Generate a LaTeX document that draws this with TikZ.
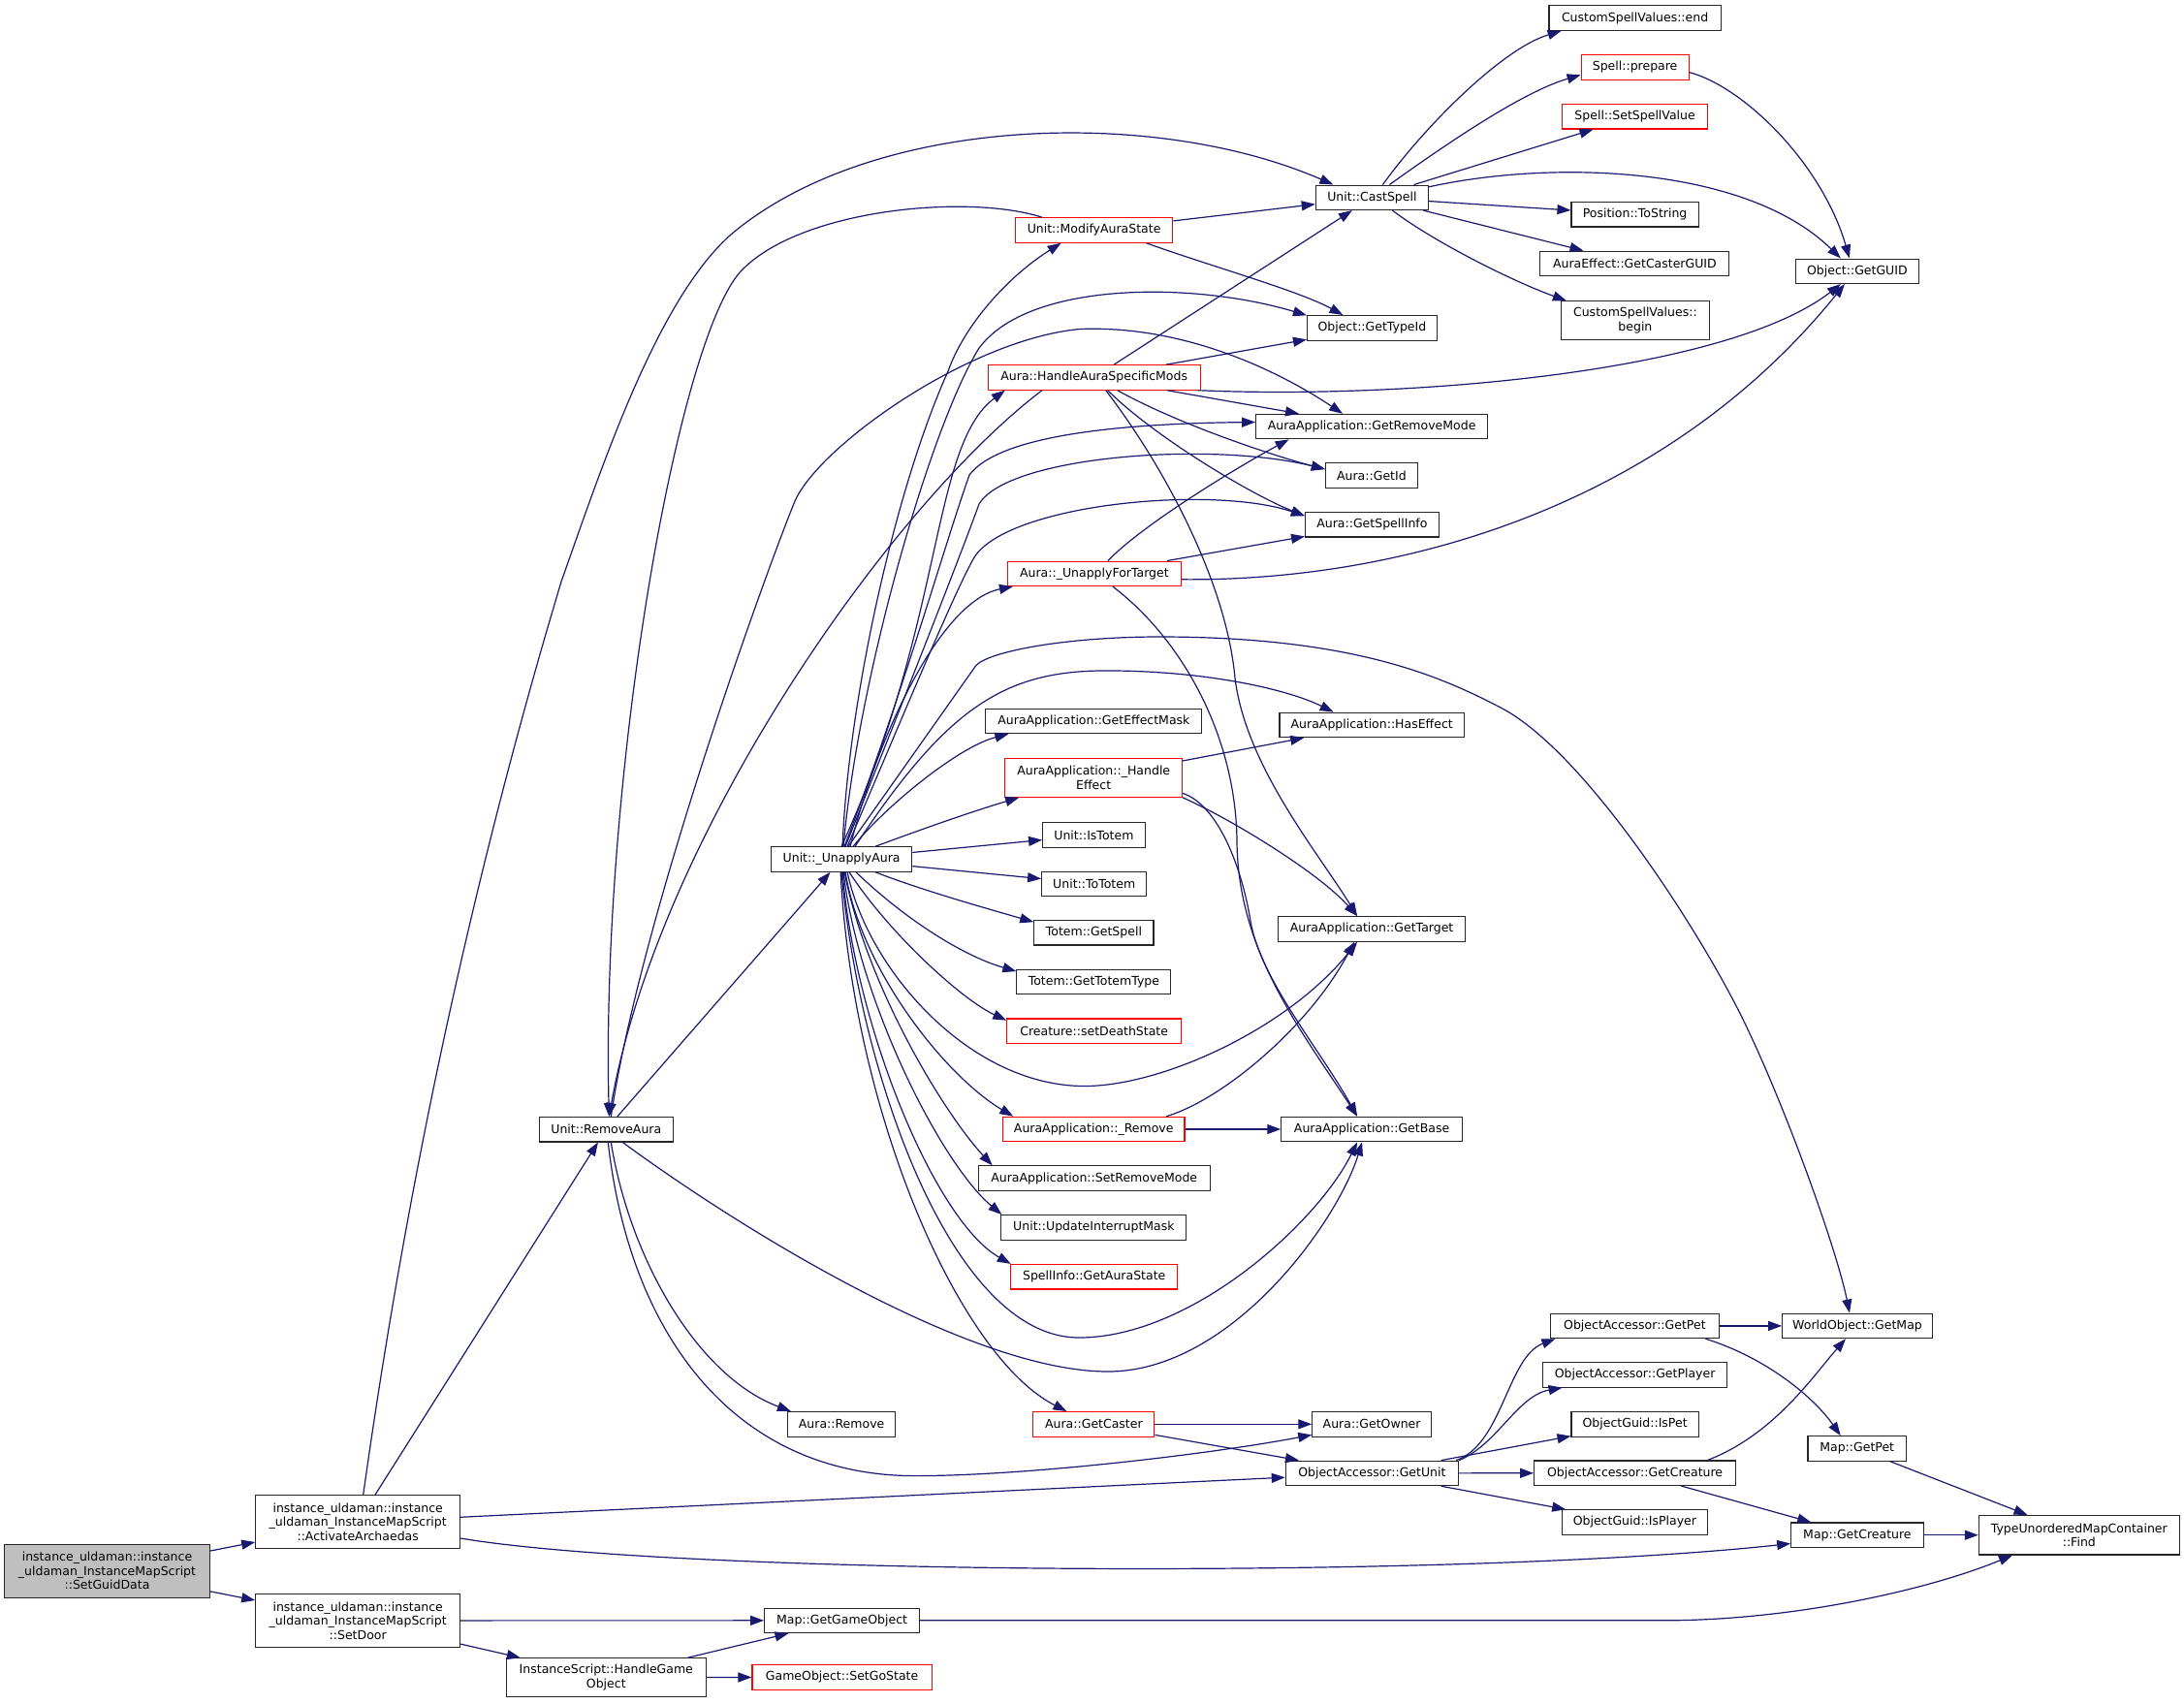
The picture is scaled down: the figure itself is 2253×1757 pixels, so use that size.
\documentclass[tikz,border=0pt]{standalone}
\usepackage{fontspec}
\setmainfont{DejaVu Sans}
\usetikzlibrary{arrows.meta}
\definecolor{mblue}{HTML}{191970}
\definecolor{gry}{HTML}{BFBFBF}
\newcommand\nodefont{\fontsize{12.5}{14.5}\selectfont}
\tikzset{
  nd/.style={draw=black!85, line width=1.1pt, fill=white, inner sep=0pt, minimum height=25.5pt, align=center, font=\nodefont},
  rd/.style={nd, draw=red},
  ed/.style={draw=mblue, line width=1.2pt, -{Triangle[length=14pt,width=10pt]}},
}
\begin{document}
\begin{tikzpicture}[x=1pt,y=-1pt]
\path[use as bounding box, fill=white] (0,0) rectangle (2253,1757);
% nodes
\node[nd, fill=gry, minimum width=211.4pt, minimum height=54.5pt] (sgd) at (110.5,1620.8) {instance\_uldaman::instance\\\_uldaman\_InstanceMapScript\\::SetGuidData};
\node[nd, minimum width=210.9pt, minimum height=54.9pt] (act) at (369.2,1570.3) {instance\_uldaman::instance\\\_uldaman\_InstanceMapScript\\::ActivateArchaedas};
\node[nd, minimum width=210.9pt, minimum height=54.5pt] (door) at (369.2,1671.9) {instance\_uldaman::instance\\\_uldaman\_InstanceMapScript\\::SetDoor};
\node[nd, minimum width=205.5pt, minimum height=39.4pt] (hgo) at (625.3,1730.5) {InstanceScript::HandleGame\\Object};
\node[nd, minimum width=137.6pt] (ra) at (625.3,1165.2) {Unit::RemoveAura};
\node[nd, minimum width=145.4pt] (ua) at (868.1,886.5) {Unit::\_UnapplyAura};
\node[nd, minimum width=116.3pt] (cs) at (1415.4,203.8) {Unit::CastSpell};
\node[rd, minimum width=162.4pt] (mas) at (1128.6,237.5) {Unit::ModifyAuraState};
\node[nd, minimum width=133.8pt] (gti) at (1415.4,338.3) {Object::GetTypeId};
\node[rd, minimum width=218.7pt] (hasm) at (1128.7,389.4) {Aura::HandleAuraSpecificMods};
\node[nd, minimum width=239pt] (grm) at (1415.1,440.1) {AuraApplication::GetRemoveMode};
\node[nd, minimum width=95pt] (gid) at (1414.9,490.5) {Aura::GetId};
\node[nd, minimum width=137.7pt] (gsi) at (1415.4,541.2) {Aura::GetSpellInfo};
\node[rd, minimum width=178.3pt] (uft) at (1128.9,591.8) {Aura::\_UnapplyForTarget};
\node[nd, minimum width=177.2pt] (cse) at (1686.6,18.6) {CustomSpellValues::end};
\node[rd, minimum width=111pt] (spp) at (1686.6,69.3) {Spell::prepare};
\node[rd, minimum width=150.4pt] (ssv) at (1686.6,120.2) {Spell::SetSpellValue};
\node[nd, minimum width=131.2pt] (pts) at (1686.6,221.2) {Position::ToString};
\node[nd, minimum width=195pt] (gcg) at (1686.4,271.9) {AuraEffect::GetCasterGUID};
\node[nd, minimum width=153.7pt, minimum height=39.8pt] (csb) at (1686.9,330.7) {CustomSpellValues::\\begin};
\node[nd, minimum width=126.8pt] (guid) at (1915.9,279.8) {Object::GetGUID};
\node[nd, minimum width=223pt] (gem) at (1128.4,743.9) {AuraApplication::GetEffectMask};
\node[nd, minimum width=190.5pt] (hef) at (1415.2,747.9) {AuraApplication::HasEffect};
\node[rd, minimum width=182.7pt, minimum height=39.8pt] (hle) at (1128.2,802.4) {AuraApplication::\_Handle\\Effect};
\node[nd, minimum width=105.6pt] (ist) at (1128.4,861.4) {Unit::IsTotem};
\node[nd, minimum width=108.1pt] (tot) at (1128.7,911.9) {Unit::ToTotem};
\node[nd, minimum width=123.2pt] (tgs) at (1128.4,962.2) {Totem::GetSpell};
\node[nd, minimum width=159pt] (ttt) at (1128.4,1013.1) {Totem::GetTotemType};
\node[rd, minimum width=179.9pt] (sds) at (1128.7,1063.7) {Creature::setDeathState};
\node[nd, minimum width=192.4pt] (gtg) at (1415.1,958.4) {AuraApplication::GetTarget};
\node[rd, minimum width=187.6pt] (rem) at (1128.2,1165) {AuraApplication::\_Remove};
\node[nd, minimum width=186.6pt] (gba) at (1415.1,1165) {AuraApplication::GetBase};
\node[nd, minimum width=238.9pt] (srm) at (1128.7,1215.6) {AuraApplication::SetRemoveMode};
\node[nd, minimum width=191pt] (uim) at (1128.4,1266.3) {Unit::UpdateInterruptMask};
\node[rd, minimum width=172.1pt] (gas) at (1128.7,1317.2) {SpellInfo::GetAuraState};
\node[nd, minimum width=111.4pt] (arm) at (868.1,1469.3) {Aura::Remove};
\node[rd, minimum width=125pt] (gca) at (1128.4,1469.3) {Aura::GetCaster};
\node[nd, minimum width=122.6pt] (gow) at (1415.1,1469.3) {Aura::GetOwner};
\node[nd, minimum width=178.3pt] (gun) at (1415.4,1519.9) {ObjectAccessor::GetUnit};
\node[nd, minimum width=160pt] (mgo) at (868.6,1671.8) {Map::GetGameObject};
\node[rd, minimum width=185.2pt] (sgs) at (868.6,1730.4) {GameObject::SetGoState};
\node[nd, minimum width=173.9pt] (oagp) at (1686.4,1367.9) {ObjectAccessor::GetPet};
\node[nd, minimum width=154.7pt] (gmap) at (1916,1367.9) {WorldObject::GetMap};
\node[nd, minimum width=190.6pt] (gpl) at (1686.6,1418.3) {ObjectAccessor::GetPlayer};
\node[nd, minimum width=131.2pt] (ipet) at (1686.6,1469.3) {ObjectGuid::IsPet};
\node[nd, minimum width=101.4pt] (mgp) at (1915.7,1494.4) {Map::GetPet};
\node[nd, minimum width=208pt] (gcr) at (1686.6,1519.7) {ObjectAccessor::GetCreature};
\node[nd, minimum width=149.9pt] (ipl) at (1686.4,1570.5) {ObjectGuid::IsPlayer};
\node[nd, minimum width=136.4pt] (mgc) at (1915.9,1583.7) {Map::GetCreature};
\node[nd, minimum width=207pt, minimum height=40.5pt] (fnd) at (2144.8,1583.7) {TypeUnorderedMapContainer\\::Find};
% edges: left part
\draw[ed] (sgd) -- (act);
\draw[ed] (sgd) -- (door);
\draw[ed] (door) -- (hgo);
\draw[ed] (door) -- (mgo);
\draw[ed] (hgo) -- (mgo);
\draw[ed] (hgo) -- (sgs);
\draw[ed] (act) -- (ra);
\draw[ed] (act) -- (gun);
\draw[ed] ([yshift=-16.7pt]act.east) .. controls (700,1625) and (1500,1630) .. ([yshift=-8.8pt]mgc.west);
\draw[ed] ([xshift=5.5pt]act.north) .. controls (418.7,1228.8) and (484.8,914) .. (579,600) .. controls (621.6,480) and (680,301) .. (760,237) .. controls (910,117) and (1195.6,112) .. ([xshift=-40pt]cs.north);
\draw[ed] (mgo.east) -- (1716,1671.8) .. controls (1850,1671.8) and (1990,1640) .. ([xshift=-68.8pt]fnd.south);
% RemoveAura
\draw[ed] (ra) -- (ua);
\draw[ed] ([xshift=5pt]ra.south) .. controls (650,1300) and (720,1420) .. ([xshift=4pt]arm.north west);
\draw[ed] ([xshift=2pt]ra.south) .. controls (650,1380) and (760,1522.6) .. (944,1522.6) .. controls (1060,1522.6) and (1250,1500) .. ([yshift=-11pt]gow.west);
\draw[ed] ([xshift=17pt]ra.south) .. controls (760,1265) and (1000,1415) .. (1143,1415) .. controls (1270,1415) and (1380,1260) .. ([xshift=-10pt]gba.south);
\draw[ed] ([xshift=5pt]ra.north) .. controls (660,950) and (790,590) .. (820,517) .. controls (845,460) and (1000,350) .. (1114,339.5) .. controls (1230,335) and (1330,390) .. ([xshift=-30pt]grm.north);
% ModifyAuraState
\draw[ed] ([xshift=-53.6pt]mas.north) .. controls (1000,200) and (830,215) .. (767,277) .. controls (700,340) and (620,800) .. ([xshift=3pt]ra.north);
\draw[ed] (mas) -- (cs);
\draw[ed] ([xshift=54pt]mas.south) .. controls (1250,275) and (1340,300) .. ([xshift=-30pt]gti.north);
% HandleAuraSpecificMods
\draw[ed] ([xshift=-53.7pt]hasm.south) .. controls (920,520) and (680,860) .. ([xshift=3pt]ra.north);
\draw[ed] (hasm) -- (cs);
\draw[ed] (hasm) -- (gti);
\draw[ed] (hasm) -- (grm);
\draw[ed] ([xshift=24pt]hasm.south) .. controls (1220,440) and (1320,472) .. ([yshift=6.5pt]gid.west);
\draw[ed] ([xshift=14pt]hasm.south) .. controls (1190,450) and (1290,510) .. ([yshift=9pt]gsi.west);
\draw[ed] ([xshift=12pt]hasm.south) .. controls (1200,480) and (1265,600) .. (1274,699.5) .. controls (1285,790) and (1360,880) .. ([xshift=-15pt]gtg.north);
\draw[ed] ([xshift=-3pt]hasm.south east) .. controls (1450,412) and (1780,385) .. ([xshift=-17pt]guid.south);
% _UnapplyForTarget
\draw[ed] ([xshift=14pt]uft.north) .. controls (1180,540) and (1280,480) .. ([xshift=-85.5pt]grm.south);
\draw[ed] (uft) -- (gsi);
\draw[ed] ([yshift=-6pt]uft.east) .. controls (1450,600) and (1720,520) .. ([xshift=-13pt]guid.south);
\draw[ed] ([xshift=19pt]uft.south) .. controls (1220,660) and (1275,760) .. (1276,868) .. controls (1277,980) and (1340,1060) .. ([xshift=-15pt]gba.north);
% _HandleEffect, _Remove
\draw[ed] (hle) -- (hef);
\draw[ed] (hle.south east) .. controls (1270,845) and (1360,900) .. ([xshift=-15pt]gtg.north);
\draw[ed] ([yshift=-16pt]hle.east) .. controls (1255,830) and (1280,890) .. (1290,950) .. controls (1300,1010) and (1360,1080) .. ([xshift=-15pt]gba.north);
\draw[ed] (rem) -- (gba);
\draw[ed] ([xshift=75pt]rem.north) .. controls (1260,1135) and (1350,1060) .. ([xshift=-18pt]gtg.south);
% _UnapplyAura fan (top)
\draw[ed] ([xshift=1pt]ua.north) .. controls (875,720) and (925,500) .. (978,383) .. controls (995,335) and (1040,285) .. ([xshift=-34pt]mas.south);
\draw[ed] ([xshift=2pt]ua.north) .. controls (885,700) and (960,440) .. (1009.6,359.7) .. controls (1060,290) and (1230,290) .. ([yshift=13pt]gti.west);
\draw[ed] (ua.north) .. controls (975,640) and (960,460) .. ([xshift=-92pt]hasm.south);
\draw[ed] ([xshift=3pt]ua.north) .. controls (930,720) and (975,560) .. (1000,490) .. controls (1030,450) and (1150,437) .. ([yshift=4.6pt]grm.west);
\draw[ed] ([xshift=4pt]ua.north) .. controls (935,715) and (990,575) .. (1010,520) .. controls (1040,470) and (1250,455) .. ([yshift=6.5pt]gid.west);
\draw[ed] ([xshift=6pt]ua.north) .. controls (935,730) and (985,610) .. (1005,575) .. controls (1040,520) and (1250,500) .. ([yshift=9pt]gsi.west);
\draw[ed] ([xshift=9pt]ua.north) .. controls (905,760) and (970,620) .. ([xshift=-84pt]uft.south);
\draw[ed] ([xshift=7pt]ua.north) -- (1006.7,686.7) .. controls (1020,672) and (1100,657) .. (1196,657) .. controls (1400,657) and (1490,700) .. (1548,730) .. controls (1635,775) and (1754,961.6) .. (1798,1051.6) .. controls (1842,1141.6) and (1895,1290) .. ([xshift=-8pt]gmap.north);
\draw[ed] ([xshift=14pt]ua.north) .. controls (980,725) and (1040,690) .. (1150,692) .. controls (1250,693) and (1330,712) .. ([xshift=-39.6pt]hef.north);
\draw[ed] ([xshift=12pt]ua.north) .. controls (915,830) and (990,770) .. ([xshift=-88pt]gem.south);
\draw[ed] ([xshift=35pt]ua.north) .. controls (960,852) and (1010,835) .. ([xshift=-77pt]hle.south);
\draw[ed] (ua) -- (ist);
\draw[ed] (ua) -- (tot);
% _UnapplyAura fan (bottom)
\draw[ed] ([xshift=35pt]ua.south) .. controls (950,918) and (1010,935) .. ([yshift=11pt]tgs.west);
\draw[ed] ([xshift=15pt]ua.south) .. controls (930,945) and (990,985) .. ([yshift=11pt]ttt.west);
\draw[ed] ([xshift=8pt]ua.south) .. controls (915,960) and (990,1030) .. ([yshift=11pt]sds.west);
\draw[ed] ([xshift=6pt]ua.south) .. controls (895,1000) and (1000,1120.5) .. (1118.7,1120.5) .. controls (1200,1120.5) and (1330,1060) .. ([xshift=-15pt]gtg.south);
\draw[ed] ([xshift=4pt]ua.south) .. controls (888,1000) and (975,1110) .. ([xshift=-83pt]rem.north);
\draw[ed] ([xshift=3pt]ua.south) .. controls (895,1020) and (975,1150) .. ([xshift=-105pt]srm.north);
\draw[ed] ([xshift=2pt]ua.south) .. controls (885,1030) and (970,1200) .. ([xshift=-95pt]uim.north);
\draw[ed] ([xshift=1pt]ua.south) .. controls (882,1060) and (965,1260) .. ([xshift=-86pt]gas.north);
\draw[ed] (ua.south) .. controls (885,1100) and (980,1380) .. (1113,1380) .. controls (1230,1380) and (1360,1260) .. ([xshift=-15pt]gba.south);
\draw[ed] ([xshift=-1pt]ua.south) .. controls (880,1150) and (990,1400) .. ([xshift=-28pt]gca.north);
% CastSpell
\draw[ed] ([xshift=11pt]cs.north) .. controls (1470,130) and (1550,50) .. ([xshift=-76pt]cse.south);
\draw[ed] ([xshift=18pt]cs.north) .. controls (1490,150) and (1570,95) .. ([yshift=-8pt]spp.west);
\draw[ed] (cs) -- (ssv);
\draw[ed] ([yshift=11pt]cs.east) .. controls (1600,165) and (1800,170) .. ([xshift=-17pt]guid.north);
\draw[ed] (cs) -- (pts);
\draw[ed] (cs) -- (gcg);
\draw[ed] ([xshift=21pt]cs.south) .. controls (1480,250) and (1560,290) .. ([xshift=-71pt]csb.north);
\draw[ed] ([yshift=-5.3pt]spp.east) .. controls (1800,90) and (1880,170) .. ([xshift=-8pt]guid.north);
% GetCaster, GetUnit and below
\draw[ed] (gca) -- (gow);
\draw[ed] (gca) -- (gun);
\draw[ed] ([xshift=-3pt]gun.north east) .. controls (1550,1490) and (1555,1400) .. ([xshift=-82pt]oagp.south);
\draw[ed] (gun.north east) .. controls (1545,1490) and (1565,1440) .. ([xshift=-75pt]gpl.south);
\draw[ed] (gun) -- (ipet);
\draw[ed] (gun) -- (gcr);
\draw[ed] (gun) -- (ipl);
\draw[ed] (oagp) -- (gmap);
\draw[ed] ([xshift=73pt]oagp.south) .. controls (1820,1400) and (1870,1440) .. ([xshift=-17pt]mgp.north);
\draw[ed] ([xshift=75pt]gcr.north) .. controls (1830,1480) and (1870,1420) .. ([xshift=-12pt]gmap.south);
\draw[ed] (gcr) -- (mgc);
\draw[ed] (mgp) -- (fnd);
\draw[ed] (mgc) -- (fnd);
\end{tikzpicture}
\end{document}
